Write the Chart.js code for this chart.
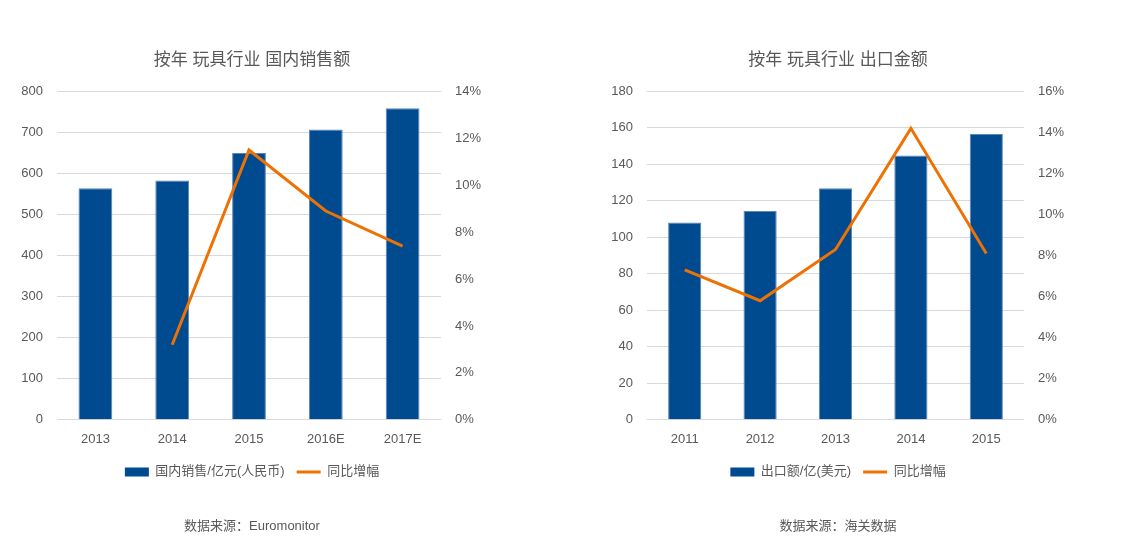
<!DOCTYPE html>
<html>
<head>
    <meta charset="utf-8">
    <script src="https://cdn.jsdelivr.net/npm/chart.js"></script>
    <style>
        body { margin: 0; background: #fff; width: 1132px; height: 541px; overflow: hidden; }
        .chart-box { position: absolute; top: 0; width: 500px; height: 541px; }
        #leftBox { left: 2px; }
        #rightBox { left: 588px; }
    </style>
</head>
<body>
<div id="leftBox" class="chart-box"><canvas id="salesChart"></canvas></div>
<div id="rightBox" class="chart-box"><canvas id="exportChart"></canvas></div>

<script>
    // domestic sales (left)
    const salesYears = ['2013', '2014', '2015', '2016E', '2017E'];
    const salesValues = [564, 583, 650, 707, 759];
    const salesGrowth = [null, 3.2, 11.5, 8.9, 7.4];

    // export (right)
    const exportYears = ['2011', '2012', '2013', '2014', '2015'];
    const exportValues = [108.2, 114.5, 126.9, 144.9, 156.6];
    const exportGrowth = [7.3, 5.8, 8.3, 14.2, 8.1];

    const FONT = "'Liberation Sans', 'Noto Sans CJK SC', sans-serif";
    const TEXT = '#595959';
    const BLUE = '#004a8f';
    const ORANGE = '#ee7203';

    const legendLabels = (chart) => {
        return chart.data.datasets.map((ds, i) => {
            const isBar = ds.type === 'bar';
            return {
                text: ds.label,
                datasetIndex: i,
                pointStyle: 'line',
                strokeStyle: isBar ? BLUE : ORANGE,
                fillStyle: isBar ? BLUE : ORANGE,
                lineWidth: isBar ? 9 : 3,
                lineCap: 'butt',
                fontColor: TEXT,
                hidden: false
            };
        });
    };

    const makeChart = (canvasId, cfg) => {
        return new Chart(document.getElementById(canvasId), {
            data: {
                labels: cfg.labels,
                datasets: [
                    {
                        type: 'bar',
                        label: cfg.barLabel,
                        data: cfg.bars,
                        backgroundColor: BLUE,
                        borderColor: '#5a86b8',
                        borderWidth: 1,
                        barPercentage: 0.44,
                        categoryPercentage: 1,
                        yAxisID: 'y',
                        order: 2
                    },
                    {
                        type: 'line',
                        label: '同比增幅',
                        data: cfg.growth,
                        borderColor: ORANGE,
                        borderWidth: 3,
                        pointRadius: 0,
                        tension: 0,
                        yAxisID: 'y1',
                        order: 1
                    }
                ]
            },
            options: {
                responsive: true,
                maintainAspectRatio: false,
                animation: false,
                layout: { padding: 0 },
                scales: {
                    x: {
                        grid: { display: false },
                        border: { display: false },
                        ticks: { color: TEXT, font: { family: FONT, size: 13 }, padding: 4 },
                        afterFit: (scale) => { scale.height = scale.height + 2; }
                    },
                    y: {
                        position: 'left',
                        min: 0,
                        max: cfg.yMax,
                        ticks: { stepSize: cfg.yStep, color: TEXT, font: { family: FONT, size: 13 }, padding: 14 },
                        grid: { color: '#d9d9d9', drawTicks: false },
                        border: { display: false },
                        afterFit: (scale) => { scale.width = cfg.leftWidth; }
                    },
                    y1: {
                        position: 'right',
                        min: 0,
                        max: cfg.pMax,
                        ticks: {
                            stepSize: 2, color: TEXT, font: { family: FONT, size: 13 }, padding: 14,
                            callback: (v) => v + '%'
                        },
                        grid: { display: false, drawTicks: false },
                        border: { display: false },
                        afterFit: (scale) => { scale.width = cfg.rightWidth; }
                    }
                },
                plugins: {
                    title: {
                        display: true,
                        text: cfg.title,
                        color: TEXT,
                        font: { family: FONT, size: 17, weight: 'normal' },
                        padding: { top: 50, bottom: 21 }
                    },
                    legend: {
                        display: true,
                        position: 'bottom',
                        labels: {
                            usePointStyle: true,
                            pointStyleWidth: 24,
                            boxHeight: 9,
                            color: TEXT,
                            font: { family: FONT, size: 13 },
                            padding: 12,
                            generateLabels: legendLabels
                        }
                    },
                    subtitle: {
                        display: true,
                        position: 'bottom',
                        text: cfg.source,
                        color: TEXT,
                        font: { family: FONT, size: 13 },
                        padding: { top: 30, bottom: 7 }
                    },
                    tooltip: { enabled: false }
                }
            }
        });
    };

    makeChart('salesChart', {
        labels: salesYears,
        bars: salesValues,
        growth: salesGrowth,
        barLabel: '国内销售/亿元(人民币)',
        title: '按年 玩具行业 国内销售额',
        source: '数据来源：Euromonitor',
        yMax: 800,
        yStep: 100,
        pMax: 14,
        leftWidth: 55,
        rightWidth: 61
    });

    makeChart('exportChart', {
        labels: exportYears,
        bars: exportValues,
        growth: exportGrowth,
        barLabel: '出口额/亿(美元)',
        title: '按年 玩具行业 出口金额',
        source: '数据来源：海关数据',
        yMax: 180,
        yStep: 20,
        pMax: 16,
        leftWidth: 59,
        rightWidth: 64
    });
</script>
</body>
</html>
